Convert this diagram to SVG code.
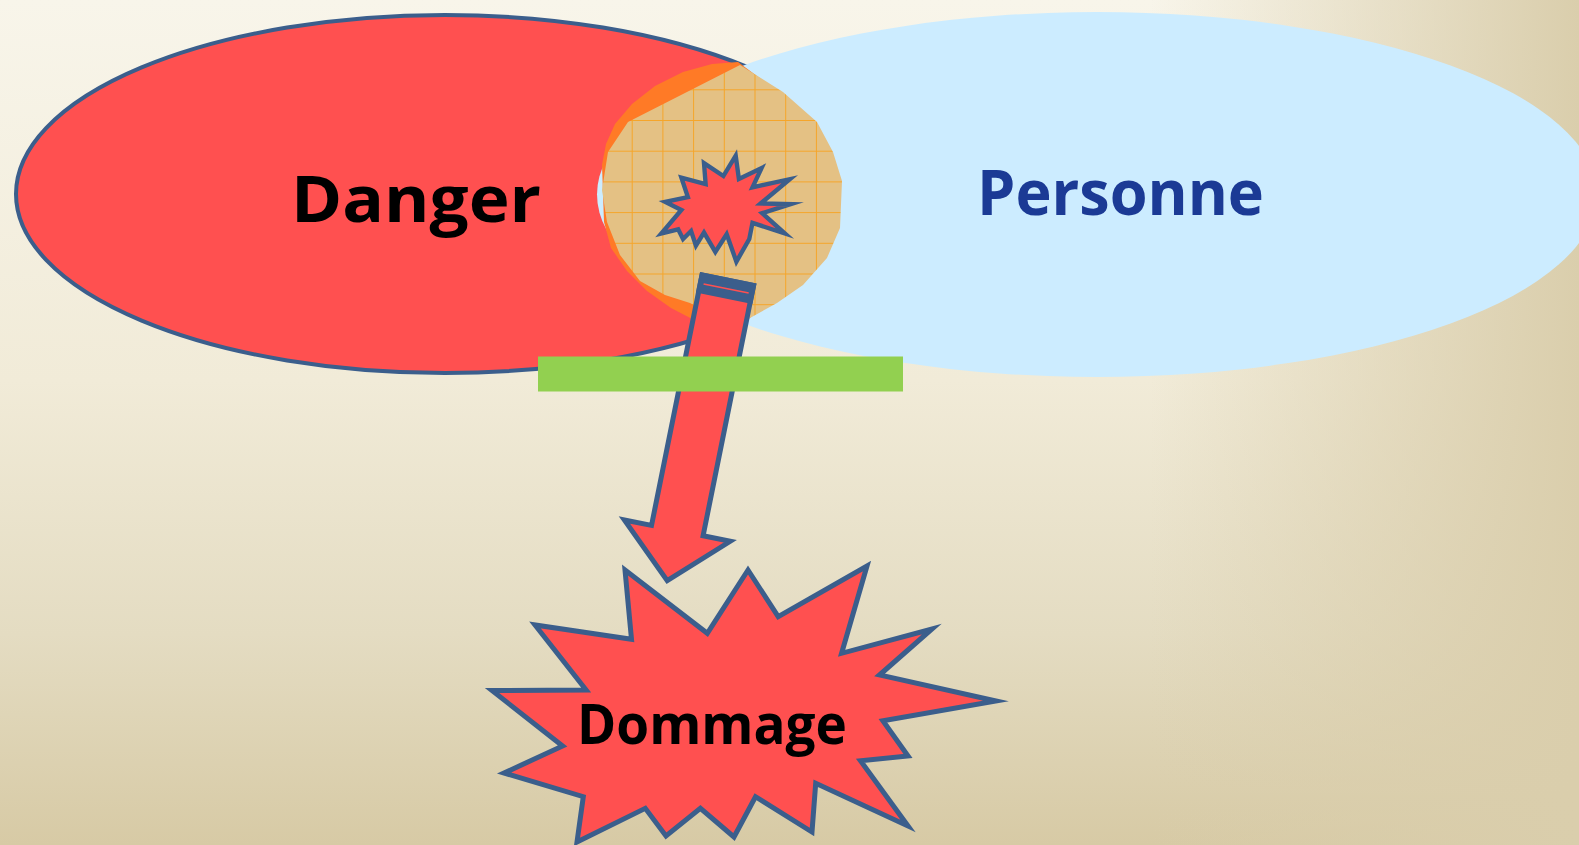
<svg xmlns="http://www.w3.org/2000/svg" width="1579" height="845" viewBox="0 0 1579 845">
  <defs>
    <linearGradient id="bgV" x1="0" y1="0" x2="0" y2="1">
      <stop offset="0" stop-color="#F8F5EA"/>
      <stop offset="0.45" stop-color="#F1EBD8"/>
      <stop offset="0.75" stop-color="#E4DCC2"/>
      <stop offset="1" stop-color="#D7CAA5"/>
    </linearGradient>
    <linearGradient id="bgH" gradientUnits="userSpaceOnUse" x1="1150" y1="0" x2="1579" y2="0">
      <stop offset="0" stop-color="#DACEAC" stop-opacity="0"/>
      <stop offset="1" stop-color="#DACEAC" stop-opacity="1"/>
    </linearGradient>
    <pattern id="grid" patternUnits="userSpaceOnUse" x="631.7" y="89.3" width="30.7" height="30.7">
      <rect width="30.7" height="30.7" fill="#E4C184"/>
      <path d="M0 0.5 H30.7 M0.5 0 V30.7" stroke="#F5A52A" stroke-width="1" fill="none"/>
    </pattern>
  </defs>
  <style>
    .outline { stroke: #3B5E8C; stroke-linejoin: miter; stroke-miterlimit: 12; }
    .red { fill: #FF5050; }
    .lbl { font-family: "Open Sans", "Liberation Sans", sans-serif; font-weight: bold; }
  </style>

  <rect width="1579" height="845" fill="url(#bgV)"/>
  <rect width="1579" height="845" fill="url(#bgH)"/>

  <g id="danger">
    <ellipse cx="445" cy="194" rx="429" ry="179" class="red outline" stroke-width="4"/>
  </g>

  <g id="personne">
    <ellipse cx="1097" cy="194.5" rx="500" ry="182.5" fill="#CCECFF"/>
  </g>

  <g id="intersection">
    <polygon fill="#FF7A26" points="738,62 712,64 683,72 655,86 632,104 615,124 606,144 602,165 604,222 611,248 627,271 647,291 671,308 698,322 725,334 750,318 800,250 800,120 765,82"/>
    <polygon fill="url(#grid)" points="740,65 783,92 817,122 833,152 842,181 840,228 827,258 803,285 777,303 750,318 720,318 690,303 665,295 640,281 620,255 607,222 602,190 608,152 628,122"/>
    <polygon class="red outline" stroke-width="4.5" transform="translate(726,209) scale(0.97) translate(-726,-209)" points="736,154 739.3,178 762.7,166.7 753.3,186.7 791.7,178.3 761.7,203.3 792.7,204 763.3,213.3 786.7,234.3 753.3,223.3 750,240 736.7,263.3 726.7,235 715,253.3 703.3,233.3 695,246.7 690,231.7 681.7,240 676.7,230 659.3,234.3 680,210 663.3,201.7 686.7,196.7 680,176.7 705,183.3 703.3,161.7 723.3,175"/>
  </g>

  <g id="connectors">
    <g transform="translate(728.3,277.7) rotate(11.4)">
      <polygon class="red outline" stroke-width="5" points="-26.3,2.5 26.3,2.5 26.3,258 54,258 0,309 -54,258 -26.3,258"/>
      <rect x="-28.8" y="0" width="57.6" height="21" fill="#3B5E8C"/>
      <line x1="-23" y1="11" x2="23" y2="11" stroke="#FF5050" stroke-width="1.5"/>
    </g>
  </g>

  <g id="barrier">
    <rect x="538" y="356.5" width="365" height="35" fill="#92D050"/>
  </g>

  <g id="dommage">
    <polygon class="red outline" stroke-width="5" points="625,570 707.3,633.3 748,570 778.2,616.7 867,566 841.6,653.3 932,629 879.5,675 996,701 882.9,720.7 908,756 860.5,760.7 908,826 815.7,783.3 812,832 755.5,796.7 734,837 700.4,808.3 666,836 645.3,808.3 577,842 583.3,796.7 504,773 562.6,746 492,690.5 586.1,690 535,625 631.5,639.3"/>
  </g>

  <text class="lbl" x="291" y="221.5" font-size="64" fill="#000000" textLength="250" lengthAdjust="spacingAndGlyphs">Danger</text>
  <text class="lbl" x="977" y="214.5" font-size="62" fill="#1B3A95" textLength="287" lengthAdjust="spacingAndGlyphs">Personne</text>
  <text class="lbl" x="577" y="743.5" font-size="56" fill="#000000" textLength="270" lengthAdjust="spacingAndGlyphs">Dommage</text>
</svg>
